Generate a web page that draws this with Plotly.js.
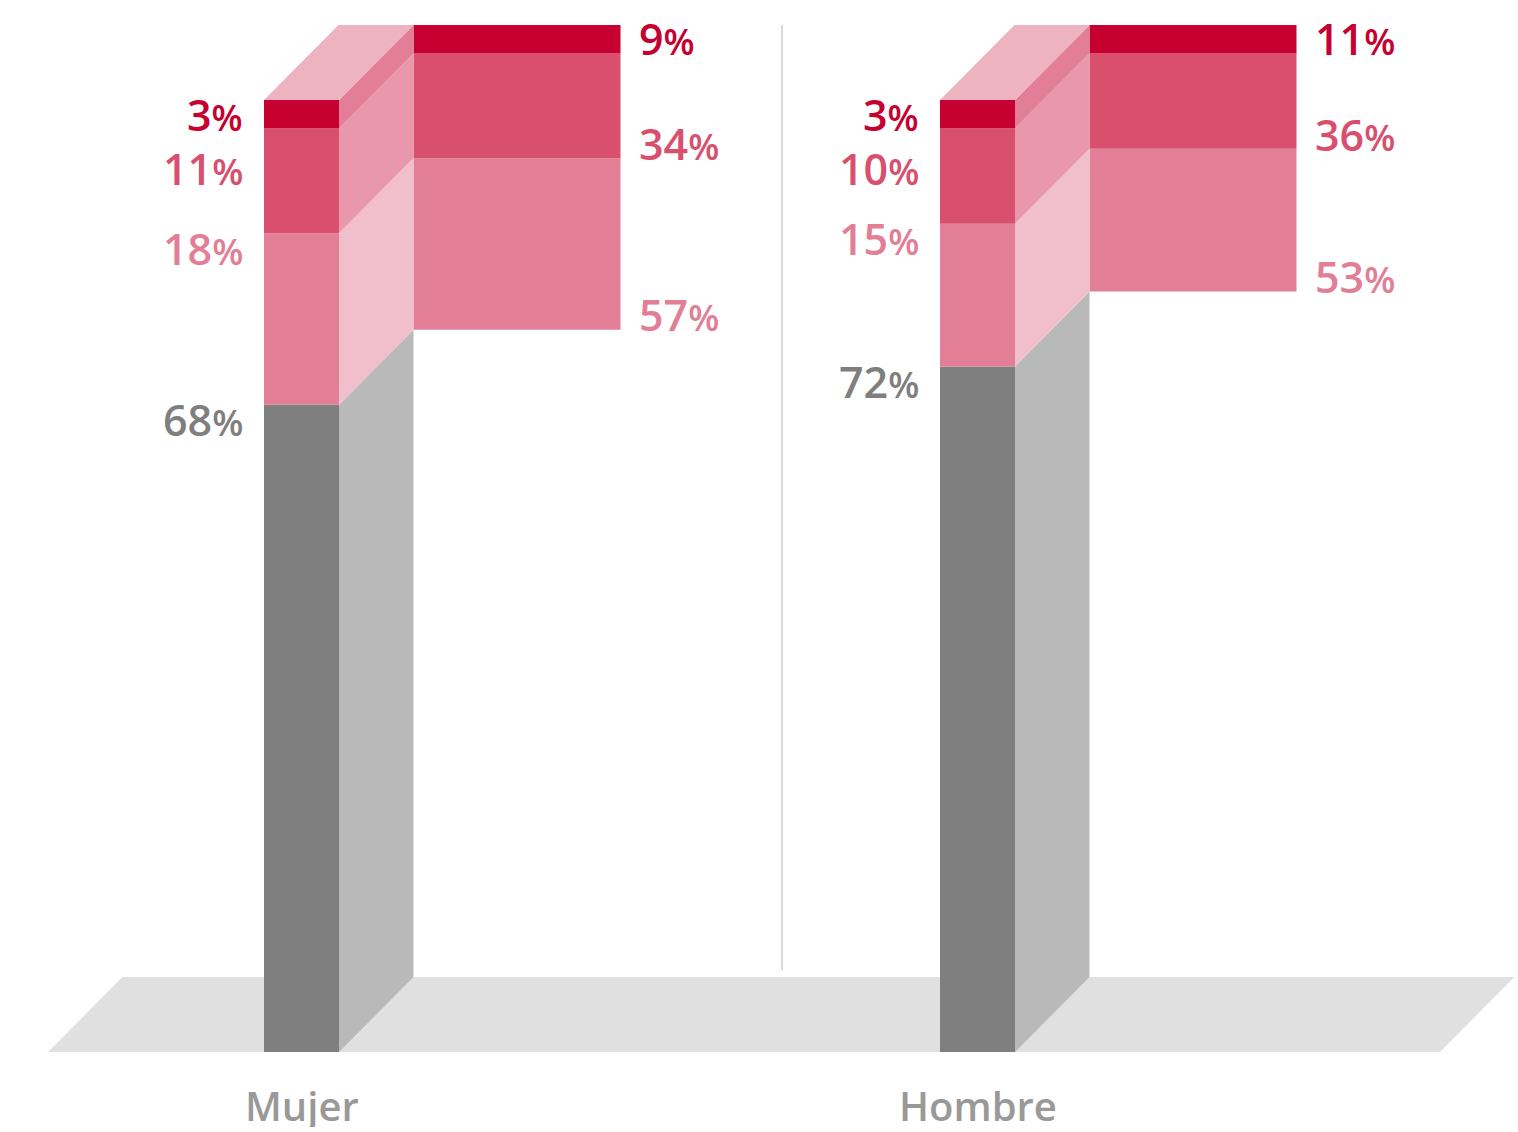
<!DOCTYPE html>
<html>
<head>
<meta charset="utf-8">
<script src="https://cdn.plot.ly/plotly-3.0.1.min.js"></script>
<style>html,body{margin:0;padding:0;background:#fff;}#chart{width:1518px;height:1132px;}</style>
</head>
<body>
<div id="chart"></div>
<script>
// ---- data ----
const categories = ["Mujer", "Hombre"];
const segmentNames = ["Gris", "Rosa", "Rosa oscuro", "Rojo"];
const gris = [68, 72];
const rosa = [18, 15];
const rosaOscuro = [11, 10];
const rojo = [3, 3];
// breakdown of the coloured part (shown on the back bar)
const desgloseRosa = [57, 53];
const desgloseRosaOscuro = [34, 36];
const desgloseRojo = [9, 11];

// ---- styling ----
const frontColors = ["#7f7f7f", "#e27f96", "#d94f6e", "#c60031"];
const sideColors = ["#b9b9b9", "#f1bfcb", "#e898aa", "#e27f96"];
const topColor = "#eeb3c0";
const labelColors = ["#7f7f7f", "#e27f96", "#d94f6e", "#c60031"];
const FONT = "Open Sans, Noto Sans, sans-serif";
const NUM_SIZE = 43, PCT_SIZE = 36;

// geometry in axis units
const BW = 75 / 676;      // front bar width
const DX = 74.5 / 676;    // depth x
const DY = 75 / 9.52;     // depth y (percent units)
const EW = 207 / 676;     // back bar width
const xPos = categories.map((c, i) => i);

const series = [gris, rosa, rosaOscuro, rojo];
const desglose = [null, desgloseRosa, desgloseRosaOscuro, desgloseRojo];

const traces = [];
const annotations = [];

// cumulative bases
const bases = series.map((s, k) => s.map((v, i) => {
  let b = 0; for (let j = 0; j < k; j++) b += series[j][i]; return b;
}));

// front faces (bars)
series.forEach((s, k) => {
  traces.push({
    type: "bar", x: xPos, y: s, base: bases[k], width: BW, offset: 0,
    marker: {color: frontColors[k], line: {width: 0}},
    hoverinfo: "skip", showlegend: false, name: segmentNames[k]
  });
});

// back (exploded) bars: coloured segments only, shifted by depth
for (let k = 1; k < 4; k++) {
  traces.push({
    type: "bar", x: xPos.map(x => x + BW + DX), y: series[k],
    base: bases[k].map(b => b + DY), width: EW, offset: 0,
    marker: {color: frontColors[k], line: {width: 0}},
    hoverinfo: "skip", showlegend: false, name: segmentNames[k] + " desglose"
  });
}

// side faces
xPos.forEach((x0, i) => {
  series.forEach((s, k) => {
    const b = bases[k][i], t = b + s[i];
    traces.push({
      type: "scatter", mode: "none", fill: "toself", fillcolor: sideColors[k],
      x: [x0 + BW, x0 + BW + DX, x0 + BW + DX, x0 + BW, x0 + BW],
      y: [b, b + DY, t + DY, t, b],
      hoverinfo: "skip", showlegend: false
    });
  });
  const top = bases[3][i] + rojo[i];
  traces.push({
    type: "scatter", mode: "none", fill: "toself", fillcolor: topColor,
    x: [x0, x0 + BW, x0 + BW + DX, x0 + DX, x0],
    y: [top, top, top + DY, top + DY, top],
    hoverinfo: "skip", showlegend: false
  });
});

function pctText(v) {
  return v + '<span style="font-size:' + PCT_SIZE + 'px">%</span>';
}

// labels on main bars (left side), from top segment down, avoiding overlaps
xPos.forEach((x0, i) => {
  let prev = null;
  for (let k = 3; k >= 0; k--) {
    const top = bases[k][i] + series[k][i];
    let y = top - 1.5;
    if (prev !== null) y = Math.min(y, prev - 5.6);
    prev = y;
    annotations.push({
      x: x0 - 0.028, y: y, xref: "x", yref: "y", xanchor: "right", yanchor: "middle",
      text: pctText(series[k][i]), showarrow: false, height: 46, valign: "middle",
      font: {family: FONT, size: NUM_SIZE, color: labelColors[k], weight: 600}
    });
  }
  // labels on back bars (right side), at bottom of each segment
  for (let k = 1; k < 4; k++) {
    const bottom = bases[k][i] + DY;
    annotations.push({
      x: x0 + BW + DX + EW + 0.025, y: bottom + 1.6, xref: "x", yref: "y",
      xanchor: "left", yanchor: "middle",
      text: pctText(desglose[k][i]), showarrow: false, height: 46, valign: "middle",
      font: {family: FONT, size: NUM_SIZE, color: labelColors[k], weight: 600}
    });
  }
  // category label
  annotations.push({
    x: x0 + BW / 2, y: -5.6, xref: "x", yref: "y", xanchor: "center", yanchor: "middle",
    text: categories[i], showarrow: false, height: 44, valign: "middle",
    font: {family: FONT, size: 40, color: "#999999", weight: 600}
  });
});

// floor and separator
const floorL = -216 / 676, floorR = 1176 / 676;
const shapes = [
  {type: "path", xref: "x", yref: "y", layer: "below",
   path: `M ${floorL} 0 L ${floorR} 0 L ${floorR + DX} ${DY} L ${floorL + DX} ${DY} Z`,
   fillcolor: "#e0e0e0", line: {width: 0}},
  {type: "line", xref: "x", yref: "y", layer: "below",
   x0: 518 / 676, x1: 518 / 676, y0: 8.6, y1: 100 + DY,
   line: {color: "#d9d9d9", width: 2}}
];

const layout = {
  width: 1518, height: 1132,
  margin: {l: 0, r: 0, t: 0, b: 0},
  paper_bgcolor: "#ffffff", plot_bgcolor: "#ffffff",
  barmode: "overlay",
  xaxis: {range: [-264 / 676, 1254 / 676], visible: false, fixedrange: true},
  yaxis: {range: [-80 / 9.52, 1052 / 9.52], visible: false, fixedrange: true},
  showlegend: false,
  shapes: shapes,
  annotations: annotations
};

Plotly.newPlot("chart", traces, layout, {displayModeBar: false, staticPlot: true});
</script>
</body>
</html>
